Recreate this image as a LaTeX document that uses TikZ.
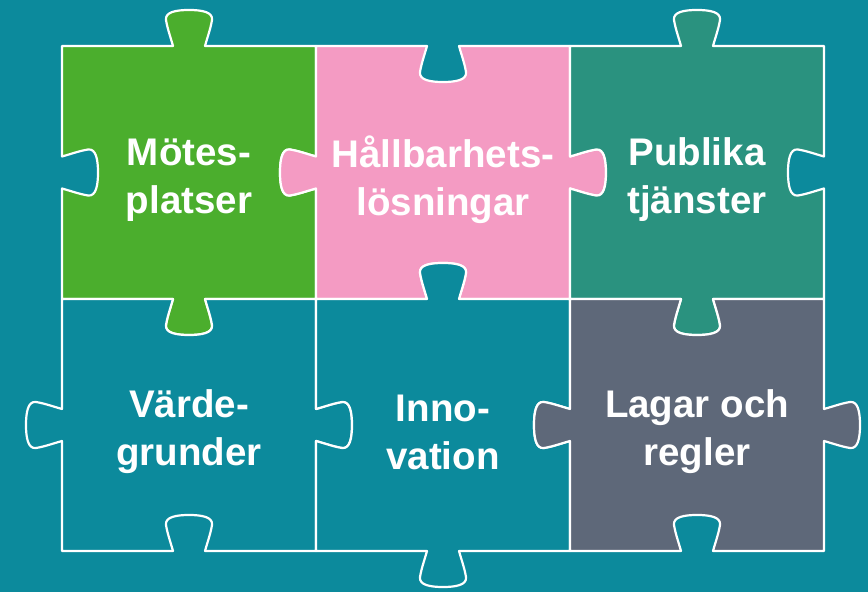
\documentclass[tikz,border=0pt]{standalone}
\usepackage{fontspec}
\setmainfont{Liberation Sans}
\usetikzlibrary{calc}

\definecolor{bgteal}{RGB}{12,138,156}
\definecolor{motegreen}{RGB}{75,174,45}
\definecolor{hallpink}{RGB}{244,155,195}
\definecolor{pubteal}{RGB}{42,146,127}
\definecolor{laggrey}{RGB}{94,104,121}

\tikzset{
  knob/.style={to path={
    let \p1=(\tikztostart), \p2=(\tikztotarget),
        \p3=($(\tikztostart)!0.5!(\tikztotarget)$),
        \n1={atan2(\y2-\y1,\x2-\x1)}, \n2={\n1+#1} in
    -- ($(\p3)+(\n1:-16pt)$)
    .. controls ($(\p3)+(\n1:-18.5pt)+(\n2:9pt)$) and ($(\p3)+(\n1:-21.5pt)+(\n2:17pt)$) .. ($(\p3)+(\n1:-23pt)+(\n2:26pt)$)
    .. controls ($(\p3)+(\n1:-24pt)+(\n2:34pt)$) and ($(\p3)+(\n1:-13pt)+(\n2:36pt)$) .. ($(\p3)+(\n2:36pt)$)
    .. controls ($(\p3)+(\n1:13pt)+(\n2:36pt)$) and ($(\p3)+(\n1:24pt)+(\n2:34pt)$) .. ($(\p3)+(\n1:23pt)+(\n2:26pt)$)
    .. controls ($(\p3)+(\n1:21.5pt)+(\n2:17pt)$) and ($(\p3)+(\n1:18.5pt)+(\n2:9pt)$) .. ($(\p3)+(\n1:16pt)$)
    -- (\tikztotarget)}},
  knob out/.style={knob=90},
  knob in/.style={knob=-90},
  piece/.style={draw=white, line width=2.2pt, line join=round},
  label/.style={text=white, align=center, font=\fontsize{38.5}{48}\selectfont\bfseries}
}

\begin{document}
\begin{tikzpicture}[x=1pt,y=1pt]
    \useasboundingbox (0,0) rectangle (868,592);
    \fill[bgteal] (0,0) rectangle (868,592);
    \foreach \i/\x in {0/62,1/316,2/570,3/824}
        \foreach \j/\y in {0/546,1/293,2/41}
            \coordinate (p\i\j) at (\x,\y);

    \draw[piece,fill=motegreen] (p00) to[knob out] (p10) to[knob in] (p11) to[knob out] (p01) to[knob in] (p00) -- cycle;
    \draw[piece,fill=hallpink] (p10) to[knob in] (p20) to[knob out] (p21) to[knob in] (p11) to[knob out] (p10) -- cycle;
    \draw[piece,fill=pubteal] (p20) to[knob out] (p30) to[knob in] (p31) to[knob out] (p21) to[knob in] (p20) -- cycle;
    \draw[piece,fill=bgteal] (p01) to[knob in] (p11) to[knob out] (p12) to[knob in] (p02) to[knob out] (p01) -- cycle;
    \draw[piece,fill=bgteal] (p11) to[knob out] (p21) to[knob in] (p22) to[knob out] (p12) to[knob in] (p11) -- cycle;
    \draw[piece,fill=laggrey] (p21) to[knob in] (p31) to[knob out] (p32) to[knob in] (p22) to[knob out] (p21) -- cycle;

    \node[label] (motes) at (189,412) {Mötes-\\platser} ;
    \node[label] (hallbar) at (443,412) {Hållbarhets-\\lösningar} ;
    \node[label] (publika) at (697,412) {Publika\\tjänster} ;
    \node[label] (varde) at (189,160) {Värde-\\grunder} ;
    \node[label] (innov) at (443,160) {Inno-\\vation} ;
    \node[label] (lagar) at (697,160) {Lagar och\\regler} ;
\end{tikzpicture}
\end{document}
